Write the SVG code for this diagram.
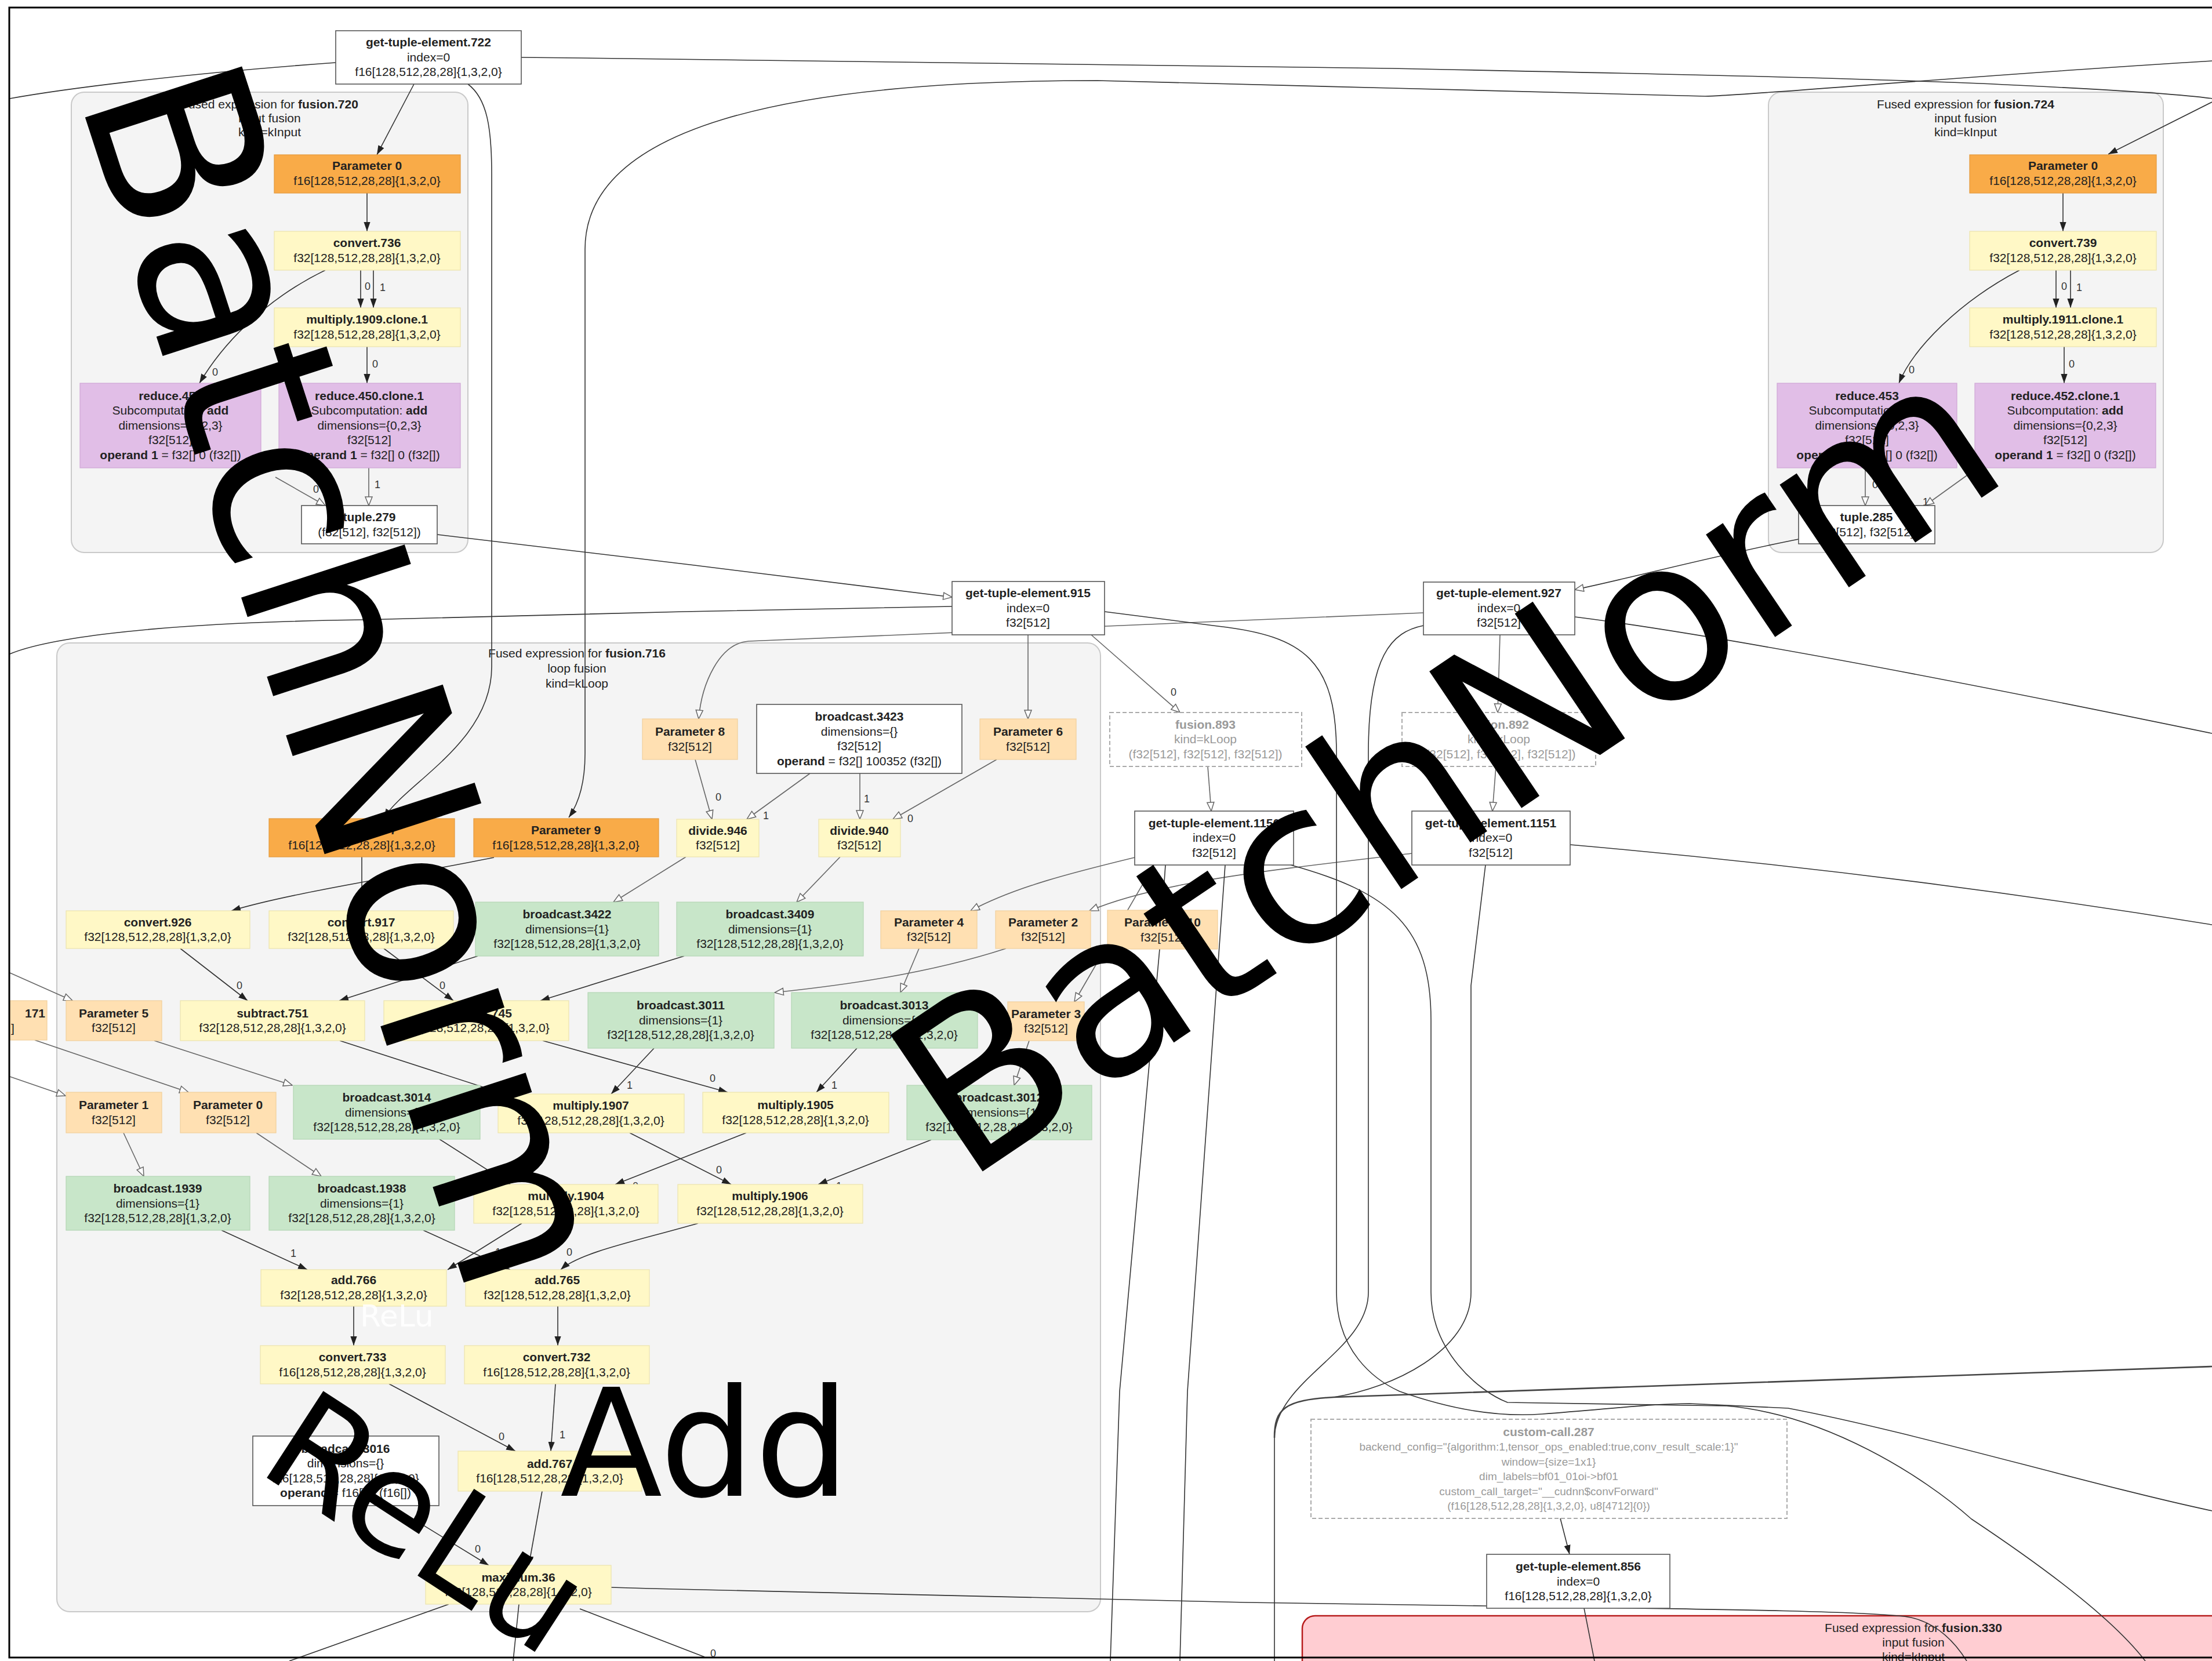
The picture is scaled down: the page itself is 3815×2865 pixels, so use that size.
<svg xmlns="http://www.w3.org/2000/svg" width="3815" height="2865" viewBox="0 0 3815 2865">
<defs>
<style>
text{font-family:"Liberation Sans",Arial,sans-serif}
.t{font-size:21px;fill:#222;text-anchor:middle}
.b{font-weight:bold}
.dt{font-size:21px;fill:#9a9a9a;text-anchor:middle}
.cc{font-size:19px}
.rw{fill:#fff;stroke:#555;stroke-width:1.6}
.ro{fill:#f9ab48;stroke:#e39a3e;stroke-width:1.2}
.rpo{fill:#ffe0b2;stroke:#f1cf9c;stroke-width:1.2}
.ry{fill:#fff8c6;stroke:#ece3ad;stroke-width:1.2}
.rg{fill:#c8e6c9;stroke:#b3d6b4;stroke-width:1.2}
.rp{fill:#e1bee7;stroke:#cfa6d6;stroke-width:1.2}
.rd{fill:#fff;stroke:#aaa;stroke-width:2;stroke-dasharray:7 4}
.cl{fill:#f4f4f4;stroke:#c9c9c9;stroke-width:2}
.e{fill:none;stroke:#333;stroke-width:1.6}
.eh{fill:none;stroke:#666;stroke-width:1.6}
.e2{fill:none;stroke:#444;stroke-width:2.6}
.l{font-size:18px;fill:#333}
.big{font-family:"DejaVu Sans",Verdana,sans-serif;fill:#000}
</style>
<marker id="af" viewBox="0 0 10 10" refX="10" refY="5" markerWidth="16" markerHeight="16" markerUnits="userSpaceOnUse" orient="auto"><path d="M0,1.5 L10,5 L0,8.5z" fill="#222"/></marker>
<marker id="ah" viewBox="0 0 12 12" refX="11" refY="6" markerWidth="18" markerHeight="18" markerUnits="userSpaceOnUse" orient="auto"><path d="M1,2 L11,6 L1,10z" fill="#fff" stroke="#666" stroke-width="1"/></marker>
</defs>
<rect x="0" y="0" width="3815" height="2865" fill="#fff"/>

<g id="clusters">
<g id="cluster_fusion720"><rect class="cl" x="123" y="159" width="684" height="794" rx="22"/>
<text class="t" x="465" y="187">Fused expression for <tspan class="b">fusion.720</tspan></text>
<text class="t" x="465" y="211">input fusion</text>
<text class="t" x="465" y="235">kind=kInput</text></g>
<g id="cluster_fusion724"><rect class="cl" x="3050" y="159" width="681" height="794" rx="22"/>
<text class="t" x="3390" y="187">Fused expression for <tspan class="b">fusion.724</tspan></text>
<text class="t" x="3390" y="211">input fusion</text>
<text class="t" x="3390" y="235">kind=kInput</text></g>
<g id="cluster_fusion716"><rect class="cl" x="98" y="1109" width="1800" height="1671" rx="22"/>
<text class="t" x="995" y="1134">Fused expression for <tspan class="b">fusion.716</tspan></text>
<text class="t" x="995" y="1160">loop fusion</text>
<text class="t" x="995" y="1186">kind=kLoop</text></g>
<g id="cluster_fusion330"><rect x="2246" y="2787" width="1620" height="200" rx="22" fill="#ffcdd2" stroke="#b71c1c" stroke-width="2.5"/>
<text class="t" x="3300" y="2815">Fused expression for <tspan class="b">fusion.330</tspan></text>
<text class="t" x="3300" y="2840">input fusion</text>
<text class="t" x="3300" y="2865">kind=kInput</text></g>
</g>

<g id="connectors">
<path class="e" d="M579,108 C300,128 100,155 17,170"/>
<path class="e" d="M899,99 L1000,100 L2400,118 C2900,128 3266,136 3500,148 C3700,158 3780,165 3815,170"/>
<path class="e" marker-end="url(#af)" d="M3815,176 L3636,266"/>
<path class="e" marker-end="url(#af)" d="M3815,105 C3400,130 3000,166 2941,166 L2400,152 L1893,139 C1350,139 1009,220 1009,430 L1009,1300 Q1009,1370 981,1410"/>
<path class="e" marker-end="url(#af)" d="M807,145 C840,170 848,220 848,300 L848,1150 C848,1280 700,1350 662,1411"/>
<path class="e" marker-end="url(#af)" d="M714,145 L650,267"/>
<path class="e" marker-end="url(#af)" d="M633,333 L633,399"/>
<path class="e" marker-end="url(#af)" d="M622,466 L622,531"/>
<path class="e" marker-end="url(#af)" d="M644,466 L644,531"/>
<path class="e" marker-end="url(#af)" d="M561,466 C450,520 380,600 344,661"/>
<path class="e" marker-end="url(#af)" d="M633,598 L633,661"/>
<path class="eh" marker-end="url(#ah)" d="M475,823 L561,872"/>
<path class="eh" marker-end="url(#ah)" d="M636,807 L636,872"/>
<path class="e" marker-end="url(#ah)" d="M754,922 C1000,950 1400,1000 1642,1030"/>
<path class="e" marker-end="url(#af)" d="M3558,333 L3558,399"/>
<path class="e" marker-end="url(#af)" d="M3546,466 L3546,531"/>
<path class="e" marker-end="url(#af)" d="M3571,466 L3571,531"/>
<path class="e" marker-end="url(#af)" d="M3483,466 C3380,520 3300,600 3275,661"/>
<path class="e" marker-end="url(#af)" d="M3560,598 L3560,661"/>
<path class="eh" marker-end="url(#ah)" d="M3217,807 L3217,872"/>
<path class="eh" marker-end="url(#ah)" d="M3402,813 L3320,872"/>
<path class="e" marker-end="url(#ah)" d="M3102,930 C2950,960 2800,1000 2716,1017"/>
<path class="e" d="M17,1128 C60,1110 200,1075 627,1069 L1180,1055 L1642,1046"/>
<path class="eh" marker-end="url(#ah)" d="M1773,1095 L1773,1240"/>
<path class="eh" marker-end="url(#ah)" d="M2455,1057 L1291,1106 C1240,1110 1210,1180 1205,1240"/>
<path class="eh" marker-end="url(#ah)" d="M1882,1095 L2035,1229"/>
<path class="eh" marker-end="url(#ah)" d="M2083,1322 L2089,1399"/>
<path class="eh" marker-end="url(#ah)" d="M2587,1095 L2583,1229"/>
<path class="eh" marker-end="url(#ah)" d="M2580,1322 L2574,1399"/>
<path class="eh" marker-end="url(#ah)" d="M1957,1479 C1850,1505 1750,1530 1674,1571"/>
<path class="eh" marker-end="url(#ah)" d="M2435,1472 C2200,1500 2000,1520 1879,1571"/>
<path class="eh" marker-end="url(#ah)" d="M1990,1492 L1853,1728"/>
<path class="eh" marker-end="url(#ah)" d="M1199,1310 L1228,1413"/>
<path class="eh" marker-end="url(#ah)" d="M1397,1334 L1288,1413"/>
<path class="eh" marker-end="url(#ah)" d="M1483,1334 L1483,1413"/>
<path class="eh" marker-end="url(#ah)" d="M1719,1310 L1540,1413"/>
<path class="eh" marker-end="url(#ah)" d="M1183,1478 L1058,1556"/>
<path class="eh" marker-end="url(#ah)" d="M1449,1478 L1374,1556"/>
<path class="e" marker-end="url(#af)" d="M852,1479 C700,1510 500,1540 399,1571"/>
<path class="e" marker-end="url(#af)" d="M624,1478 L624,1571"/>
<path class="e" marker-end="url(#af)" d="M311,1636 L427,1726"/>
<path class="e" marker-end="url(#af)" d="M662,1636 L782,1726"/>
<path class="e" marker-end="url(#af)" d="M824,1649 L585,1726"/>
<path class="e" marker-end="url(#af)" d="M1180,1649 L932,1726"/>
<path class="eh" marker-end="url(#ah)" d="M1585,1636 L1553,1712"/>
<path class="eh" marker-end="url(#ah)" d="M1735,1636 C1600,1680 1450,1700 1336,1712"/>
<path class="eh" marker-end="url(#ah)" d="M1775,1795 L1749,1872"/>
<path class="eh" marker-end="url(#ah)" d="M17,1678 L125,1726"/>
<path class="eh" marker-end="url(#ah)" d="M60,1794 L325,1884"/>
<path class="eh" marker-end="url(#ah)" d="M17,1857 L113,1890"/>
<path class="eh" marker-end="url(#ah)" d="M266,1795 L504,1872"/>
<path class="eh" marker-end="url(#ah)" d="M213,1954 L248,2029"/>
<path class="eh" marker-end="url(#ah)" d="M442,1954 L554,2029"/>
<path class="e" marker-end="url(#af)" d="M586,1795 L870,1887"/>
<path class="e" marker-end="url(#af)" d="M936,1795 L1255,1884"/>
<path class="e" marker-end="url(#af)" d="M1128,1808 L1054,1887"/>
<path class="e" marker-end="url(#af)" d="M1478,1808 L1408,1884"/>
<path class="e" marker-end="url(#af)" d="M758,1965 L880,2043"/>
<path class="e" marker-end="url(#af)" d="M1287,1954 L1061,2043"/>
<path class="e" marker-end="url(#af)" d="M1086,1954 L1261,2043"/>
<path class="e" marker-end="url(#af)" d="M1606,1966 L1411,2043"/>
<path class="e" marker-end="url(#af)" d="M382,2122 L530,2190"/>
<path class="e" marker-end="url(#af)" d="M900,2110 L772,2190"/>
<path class="e" marker-end="url(#af)" d="M730,2122 L880,2190"/>
<path class="e" marker-end="url(#af)" d="M1204,2110 C1100,2140 1000,2160 967,2190"/>
<path class="e" marker-end="url(#af)" d="M610,2253 L610,2321"/>
<path class="e" marker-end="url(#af)" d="M962,2253 L962,2321"/>
<path class="e" marker-end="url(#af)" d="M671,2387 L889,2503"/>
<path class="e" marker-end="url(#af)" d="M958,2387 L950,2503"/>
<path class="e" marker-end="url(#af)" d="M675,2597 L843,2700"/>
<path class="e" marker-end="url(#af)" d="M935,2572 L912,2700"/>
<path class="e" d="M1054,2738 C1300,2745 1500,2752 2150,2764 L2564,2770 C3000,2776 3250,2780 3296,2790 C3340,2800 3370,2830 3392,2865"/>
<path class="e" d="M774,2767 L499,2865"/>
<path class="e" d="M1000,2775 L1215,2858"/>
<path class="e" d="M895,2767 L885,2865"/>
<path class="e" d="M1905,1055 L2100,1080 C2250,1097 2305,1140 2305,1300 L2305,2229 C2305,2330 2370,2380 2414,2400 C2500,2430 2580,2445 2660,2439 C2780,2430 2850,2421 2914,2421 L3084,2429 C3300,2470 3600,2560 3815,2606"/>
<path class="e" d="M2455,1079 C2400,1090 2360,1130 2360,1300 L2360,2229 C2360,2330 2200,2380 2198,2480 L2198,2865"/>
<path class="e" d="M2226,1492 C2400,1540 2468,1600 2468,1760 L2468,2229 C2468,2330 2550,2400 2600,2419 L2978,2425 C3150,2440 3318,2547 3400,2620 C3550,2720 3650,2800 3700,2865"/>
<path class="e" d="M2562,1492 L2537,1700 L2537,2229 C2537,2330 2400,2395 2300,2410"/>
<path class="e2" d="M2198,2480 C2198,2430 2215,2415 2300,2410 L3815,2357"/>
<path class="e" d="M2113,1492 L2048,2400 L2035,2865"/>
<path class="e" d="M2010,1492 L2000,1637 L1931,2400 L1915,2865"/>
<path class="e" d="M2716,1064 C3000,1100 3500,1200 3815,1265"/>
<path class="e" d="M2708,1457 C3200,1500 3600,1560 3815,1595"/>
<path class="e" marker-end="url(#af)" d="M2691,2619 L2707,2681"/>
<path class="e" d="M2732,2774 L2750,2865"/>
<g id="edge-labels">
<text class="l" x="629" y="500">0</text><text class="l" x="655" y="502">1</text>
<text class="l" x="366" y="648">0</text><text class="l" x="642" y="634">0</text>
<text class="l" x="540" y="850">0</text><text class="l" x="646" y="842">1</text>
<text class="l" x="3555" y="500">0</text><text class="l" x="3581" y="502">1</text>
<text class="l" x="3292" y="644">0</text><text class="l" x="3568" y="634">0</text>
<text class="l" x="3229" y="842">0</text><text class="l" x="3316" y="872">1</text>
<text class="l" x="2019" y="1200">0</text><text class="l" x="2594" y="1204">0</text>
<text class="l" x="1234" y="1381">0</text><text class="l" x="1316" y="1413">1</text>
<text class="l" x="1490" y="1384">1</text><text class="l" x="1565" y="1418">0</text>
<text class="l" x="408" y="1706">0</text><text class="l" x="758" y="1706">0</text>
<text class="l" x="608" y="1748">1</text><text class="l" x="961" y="1748">1</text>
<text class="l" x="873" y="1876">0</text><text class="l" x="1224" y="1866">0</text>
<text class="l" x="1081" y="1878">1</text><text class="l" x="1434" y="1878">1</text>
<text class="l" x="1091" y="2052">0</text><text class="l" x="1235" y="2024">0</text>
<text class="l" x="1442" y="2052">1</text>
<text class="l" x="501" y="2168">1</text><text class="l" x="854" y="2166">1</text>
<text class="l" x="977" y="2166">0</text>
<text class="l" x="860" y="2484">0</text><text class="l" x="965" y="2481">1</text>
<text class="l" x="819" y="2678">0</text><text class="l" x="1225" y="2858">0</text>
</g>
</g>

<g id="nodes">
<g id="gte722"><rect class="rw" x="579" y="53" width="320" height="92"/>
<text class="t b" x="739" y="80">get-tuple-element.722</text><text class="t" x="739" y="106">index=0</text><text class="t" x="739" y="131">f16[128,512,28,28]{1,3,2,0}</text></g>
<g id="f720_param0"><rect class="ro" x="473" y="267" width="321" height="66"/>
<text class="t b" x="633" y="293">Parameter 0</text><text class="t" x="633" y="319">f16[128,512,28,28]{1,3,2,0}</text></g>
<g id="convert736"><rect class="ry" x="473" y="399" width="321" height="67"/>
<text class="t b" x="633" y="426">convert.736</text><text class="t" x="633" y="452">f32[128,512,28,28]{1,3,2,0}</text></g>
<g id="multiply1909"><rect class="ry" x="473" y="531" width="321" height="67"/>
<text class="t b" x="633" y="558">multiply.1909.clone.1</text><text class="t" x="633" y="584">f32[128,512,28,28]{1,3,2,0}</text></g>
<g id="reduce451"><rect class="rp" x="138" y="661" width="312" height="146"/>
<text class="t b" x="294" y="690">reduce.451</text><text class="t" x="294" y="715">Subcomputation: <tspan class="b">add</tspan></text><text class="t" x="294" y="741">dimensions={0,2,3}</text><text class="t" x="294" y="766">f32[512]</text><text class="t" x="294" y="792"><tspan class="b">operand 1</tspan> = f32[] 0 (f32[])</text></g>
<g id="reduce450"><rect class="rp" x="481" y="661" width="313" height="146"/>
<text class="t b" x="637" y="690">reduce.450.clone.1</text><text class="t" x="637" y="715">Subcomputation: <tspan class="b">add</tspan></text><text class="t" x="637" y="741">dimensions={0,2,3}</text><text class="t" x="637" y="766">f32[512]</text><text class="t" x="637" y="792"><tspan class="b">operand 1</tspan> = f32[] 0 (f32[])</text></g>
<g id="tuple279"><rect class="rw" x="520" y="872" width="234" height="66"/>
<text class="t b" x="637" y="899">tuple.279</text><text class="t" x="637" y="925">(f32[512], f32[512])</text></g>

<g id="f724_param0"><rect class="ro" x="3397" y="267" width="322" height="66"/>
<text class="t b" x="3558" y="293">Parameter 0</text><text class="t" x="3558" y="319">f16[128,512,28,28]{1,3,2,0}</text></g>
<g id="convert739"><rect class="ry" x="3397" y="399" width="322" height="67"/>
<text class="t b" x="3558" y="426">convert.739</text><text class="t" x="3558" y="452">f32[128,512,28,28]{1,3,2,0}</text></g>
<g id="multiply1911"><rect class="ry" x="3397" y="531" width="322" height="67"/>
<text class="t b" x="3558" y="558">multiply.1911.clone.1</text><text class="t" x="3558" y="584">f32[128,512,28,28]{1,3,2,0}</text></g>
<g id="reduce453"><rect class="rp" x="3065" y="661" width="310" height="146"/>
<text class="t b" x="3220" y="690">reduce.453</text><text class="t" x="3220" y="715">Subcomputation: <tspan class="b">add</tspan></text><text class="t" x="3220" y="741">dimensions={0,2,3}</text><text class="t" x="3220" y="766">f32[512]</text><text class="t" x="3220" y="792"><tspan class="b">operand 1</tspan> = f32[] 0 (f32[])</text></g>
<g id="reduce452"><rect class="rp" x="3406" y="661" width="312" height="146"/>
<text class="t b" x="3562" y="690">reduce.452.clone.1</text><text class="t" x="3562" y="715">Subcomputation: <tspan class="b">add</tspan></text><text class="t" x="3562" y="741">dimensions={0,2,3}</text><text class="t" x="3562" y="766">f32[512]</text><text class="t" x="3562" y="792"><tspan class="b">operand 1</tspan> = f32[] 0 (f32[])</text></g>
<g id="tuple285"><rect class="rw" x="3102" y="872" width="235" height="66"/>
<text class="t b" x="3219" y="899">tuple.285</text><text class="t" x="3219" y="925">(f32[512], f32[512])</text></g>

<g id="gte915"><rect class="rw" x="1642" y="1003" width="263" height="92"/>
<text class="t b" x="1773" y="1030">get-tuple-element.915</text><text class="t" x="1773" y="1056">index=0</text><text class="t" x="1773" y="1081">f32[512]</text></g>
<g id="gte927"><rect class="rw" x="2455" y="1004" width="261" height="91"/>
<text class="t b" x="2585" y="1030">get-tuple-element.927</text><text class="t" x="2585" y="1056">index=0</text><text class="t" x="2585" y="1081">f32[512]</text></g>
<g id="fusion893"><rect class="rd" x="1914" y="1229" width="331" height="93"/>
<text class="dt b" x="2079" y="1257">fusion.893</text><text class="dt" x="2079" y="1282">kind=kLoop</text><text class="dt" x="2079" y="1308">(f32[512], f32[512], f32[512])</text></g>
<g id="fusion892"><rect class="rd" x="2418" y="1229" width="334" height="93"/>
<text class="dt b" x="2585" y="1257">fusion.892</text><text class="dt" x="2585" y="1282">kind=kLoop</text><text class="dt" x="2585" y="1308">(f32[512], f32[512], f32[512])</text></g>
<g id="gte1150"><rect class="rw" x="1957" y="1399" width="274" height="93"/>
<text class="t b" x="2094" y="1427">get-tuple-element.1150</text><text class="t" x="2094" y="1452">index=0</text><text class="t" x="2094" y="1478">f32[512]</text></g>
<g id="gte1151"><rect class="rw" x="2435" y="1399" width="273" height="93"/>
<text class="t b" x="2571" y="1427">get-tuple-element.1151</text><text class="t" x="2571" y="1452">index=0</text><text class="t" x="2571" y="1478">f32[512]</text></g>

<g id="param8"><rect class="rpo" x="1108" y="1240" width="164" height="70"/>
<text class="t b" x="1190" y="1269">Parameter 8</text><text class="t" x="1190" y="1295">f32[512]</text></g>
<g id="broadcast3423"><rect class="rw" x="1305" y="1215" width="354" height="119"/>
<text class="t b" x="1482" y="1243">broadcast.3423</text><text class="t" x="1482" y="1269">dimensions={}</text><text class="t" x="1482" y="1294">f32[512]</text><text class="t" x="1482" y="1320"><tspan class="b">operand</tspan> = f32[] 100352 (f32[])</text></g>
<g id="param6"><rect class="rpo" x="1690" y="1240" width="166" height="70"/>
<text class="t b" x="1773" y="1269">Parameter 6</text><text class="t" x="1773" y="1295">f32[512]</text></g>
<g id="param7"><rect class="ro" x="464" y="1412" width="320" height="66"/>
<text class="t b" x="624" y="1439">Parameter 7</text><text class="t" x="624" y="1465">f16[128,512,28,28]{1,3,2,0}</text></g>
<g id="param9"><rect class="ro" x="817" y="1412" width="319" height="66"/>
<text class="t b" x="976" y="1439">Parameter 9</text><text class="t" x="976" y="1465">f16[128,512,28,28]{1,3,2,0}</text></g>
<g id="divide946"><rect class="ry" x="1167" y="1413" width="142" height="65"/>
<text class="t b" x="1238" y="1440">divide.946</text><text class="t" x="1238" y="1465">f32[512]</text></g>
<g id="divide940"><rect class="ry" x="1412" y="1413" width="141" height="65"/>
<text class="t b" x="1482" y="1440">divide.940</text><text class="t" x="1482" y="1465">f32[512]</text></g>
<g id="convert926"><rect class="ry" x="114" y="1571" width="317" height="65"/>
<text class="t b" x="272" y="1598">convert.926</text><text class="t" x="272" y="1623">f32[128,512,28,28]{1,3,2,0}</text></g>
<g id="convert917"><rect class="ry" x="464" y="1571" width="318" height="65"/>
<text class="t b" x="623" y="1598">convert.917</text><text class="t" x="623" y="1623">f32[128,512,28,28]{1,3,2,0}</text></g>
<g id="broadcast3422"><rect class="rg" x="820" y="1556" width="316" height="93"/>
<text class="t b" x="978" y="1584">broadcast.3422</text><text class="t" x="978" y="1610">dimensions={1}</text><text class="t" x="978" y="1635">f32[128,512,28,28]{1,3,2,0}</text></g>
<g id="broadcast3409"><rect class="rg" x="1167" y="1556" width="322" height="93"/>
<text class="t b" x="1328" y="1584">broadcast.3409</text><text class="t" x="1328" y="1610">dimensions={1}</text><text class="t" x="1328" y="1635">f32[128,512,28,28]{1,3,2,0}</text></g>
<g id="param4"><rect class="rpo" x="1519" y="1571" width="166" height="65"/>
<text class="t b" x="1602" y="1598">Parameter 4</text><text class="t" x="1602" y="1623">f32[512]</text></g>
<g id="param2"><rect class="rpo" x="1717" y="1571" width="164" height="65"/>
<text class="t b" x="1799" y="1598">Parameter 2</text><text class="t" x="1799" y="1623">f32[512]</text></g>
<g id="param10"><rect class="rpo" x="1910" y="1570" width="190" height="67"/>
<text class="t b" x="2005" y="1598">Parameter 10</text><text class="t" x="2005" y="1624">f32[512]</text></g>
<g id="node171"><rect class="rpo" x="17" y="1726" width="64" height="68"/>
<text class="t b" x="78" y="1755" style="text-anchor:end">171</text><text class="t" x="19" y="1781" style="text-anchor:start">]</text></g>
<g id="param5"><rect class="rpo" x="114" y="1726" width="165" height="69"/>
<text class="t b" x="196" y="1755">Parameter 5</text><text class="t" x="196" y="1780">f32[512]</text></g>
<g id="subtract751"><rect class="ry" x="311" y="1726" width="318" height="69"/>
<text class="t b" x="470" y="1755">subtract.751</text><text class="t" x="470" y="1780">f32[128,512,28,28]{1,3,2,0}</text></g>
<g id="subtract745"><rect class="ry" x="662" y="1726" width="319" height="69"/>
<text class="t b" x="821" y="1755">subtract.745</text><text class="t" x="821" y="1780">f32[128,512,28,28]{1,3,2,0}</text></g>
<g id="broadcast3011"><rect class="rg" x="1014" y="1712" width="321" height="96"/>
<text class="t b" x="1174" y="1741">broadcast.3011</text><text class="t" x="1174" y="1767">dimensions={1}</text><text class="t" x="1174" y="1792">f32[128,512,28,28]{1,3,2,0}</text></g>
<g id="broadcast3013"><rect class="rg" x="1365" y="1712" width="321" height="96"/>
<text class="t b" x="1525" y="1741">broadcast.3013</text><text class="t" x="1525" y="1767">dimensions={1}</text><text class="t" x="1525" y="1792">f32[128,512,28,28]{1,3,2,0}</text></g>
<g id="param3"><rect class="rpo" x="1738" y="1728" width="132" height="67"/>
<text class="t b" x="1804" y="1756">Parameter 3</text><text class="t" x="1804" y="1781">f32[512]</text></g>
<g id="param1"><rect class="rpo" x="114" y="1884" width="165" height="70"/>
<text class="t b" x="196" y="1913">Parameter 1</text><text class="t" x="196" y="1939">f32[512]</text></g>
<g id="f716_param0"><rect class="rpo" x="311" y="1884" width="165" height="70"/>
<text class="t b" x="393" y="1913">Parameter 0</text><text class="t" x="393" y="1939">f32[512]</text></g>
<g id="broadcast3014"><rect class="rg" x="506" y="1872" width="322" height="93"/>
<text class="t b" x="667" y="1900">broadcast.3014</text><text class="t" x="667" y="1926">dimensions={1}</text><text class="t" x="667" y="1951">f32[128,512,28,28]{1,3,2,0}</text></g>
<g id="multiply1907"><rect class="ry" x="859" y="1887" width="321" height="67"/>
<text class="t b" x="1019" y="1914">multiply.1907</text><text class="t" x="1019" y="1940">f32[128,512,28,28]{1,3,2,0}</text></g>
<g id="multiply1905"><rect class="ry" x="1212" y="1884" width="321" height="70"/>
<text class="t b" x="1372" y="1913">multiply.1905</text><text class="t" x="1372" y="1939">f32[128,512,28,28]{1,3,2,0}</text></g>
<g id="broadcast3012"><rect class="rg" x="1564" y="1872" width="319" height="94"/>
<text class="t b" x="1723" y="1900">broadcast.3012</text><text class="t" x="1723" y="1926">dimensions={1}</text><text class="t" x="1723" y="1951">f32[128,512,28,28]{1,3,2,0}</text></g>
<g id="broadcast1939"><rect class="rg" x="114" y="2029" width="317" height="93"/>
<text class="t b" x="272" y="2057">broadcast.1939</text><text class="t" x="272" y="2083">dimensions={1}</text><text class="t" x="272" y="2108">f32[128,512,28,28]{1,3,2,0}</text></g>
<g id="broadcast1938"><rect class="rg" x="464" y="2029" width="320" height="93"/>
<text class="t b" x="624" y="2057">broadcast.1938</text><text class="t" x="624" y="2083">dimensions={1}</text><text class="t" x="624" y="2108">f32[128,512,28,28]{1,3,2,0}</text></g>
<g id="multiply1904"><rect class="ry" x="817" y="2043" width="318" height="67"/>
<text class="t b" x="976" y="2070">multiply.1904</text><text class="t" x="976" y="2096">f32[128,512,28,28]{1,3,2,0}</text></g>
<g id="multiply1906"><rect class="ry" x="1169" y="2043" width="319" height="67"/>
<text class="t b" x="1328" y="2070">multiply.1906</text><text class="t" x="1328" y="2096">f32[128,512,28,28]{1,3,2,0}</text></g>
<g id="add766"><rect class="ry" x="450" y="2190" width="320" height="63"/>
<text class="t b" x="610" y="2215">add.766</text><text class="t" x="610" y="2241">f32[128,512,28,28]{1,3,2,0}</text></g>
<g id="add765"><rect class="ry" x="803" y="2190" width="317" height="63"/>
<text class="t b" x="961" y="2215">add.765</text><text class="t" x="961" y="2241">f32[128,512,28,28]{1,3,2,0}</text></g>
<g id="convert733"><rect class="ry" x="449" y="2321" width="319" height="66"/>
<text class="t b" x="608" y="2348">convert.733</text><text class="t" x="608" y="2374">f16[128,512,28,28]{1,3,2,0}</text></g>
<g id="convert732"><rect class="ry" x="801" y="2321" width="319" height="66"/>
<text class="t b" x="960" y="2348">convert.732</text><text class="t" x="960" y="2374">f16[128,512,28,28]{1,3,2,0}</text></g>
<g id="broadcast3016"><rect class="rw" x="436" y="2477" width="321" height="120"/>
<text class="t b" x="596" y="2506">broadcast.3016</text><text class="t" x="596" y="2531">dimensions={}</text><text class="t" x="596" y="2557">f16[128,512,28,28]{1,3,2,0}</text><text class="t" x="596" y="2582"><tspan class="b">operand</tspan> = f16[] 0 (f16[])</text></g>
<g id="add767"><rect class="ry" x="790" y="2503" width="317" height="69"/>
<text class="t b" x="948" y="2532">add.767</text><text class="t" x="948" y="2557">f16[128,512,28,28]{1,3,2,0}</text></g>
<g id="maximum36"><rect class="ry" x="734" y="2700" width="320" height="67"/>
<text class="t b" x="894" y="2728">maximum.36</text><text class="t" x="894" y="2753">f16[128,512,28,28]{1,3,2,0}</text></g>

<g id="customcall287"><rect class="rd" x="2261" y="2448" width="821" height="171"/>
<text class="dt b" x="2671" y="2477">custom-call.287</text>
<text class="dt cc" x="2671" y="2502">backend_config="{algorithm:1,tensor_ops_enabled:true,conv_result_scale:1}"</text>
<text class="dt cc" x="2671" y="2528">window={size=1x1}</text>
<text class="dt cc" x="2671" y="2553">dim_labels=bf01_01oi-&gt;bf01</text>
<text class="dt cc" x="2671" y="2579">custom_call_target="__cudnn$convForward"</text>
<text class="dt cc" x="2671" y="2604">(f16[128,512,28,28]{1,3,2,0}, u8[4712]{0})</text></g>
<g id="gte856"><rect class="rw" x="2564" y="2681" width="316" height="93"/>
<text class="t b" x="2722" y="2709">get-tuple-element.856</text><text class="t" x="2722" y="2735">index=0</text><text class="t" x="2722" y="2760">f16[128,512,28,28]{1,3,2,0}</text></g>
</g>

<g id="annotations">
<text x="621" y="2288" font-size="52" fill="#fff" fill-opacity="0.85" style="font-family:'DejaVu Sans',sans-serif">ReLu</text>
<text class="big" font-size="390" transform="translate(135,166) rotate(72)">BatchNorm</text>
<text class="big" font-size="390" transform="translate(1663,2042) rotate(-34)">BatchNorm</text>
<text class="big" font-size="258" x="966" y="2580">Add</text>
<text class="big" font-size="245" transform="translate(440,2536) rotate(33)">ReLu</text>
</g>

<path d="M3815,13 H16 V2859 H3815" fill="none" stroke="#000" stroke-width="3"/>
</svg>
